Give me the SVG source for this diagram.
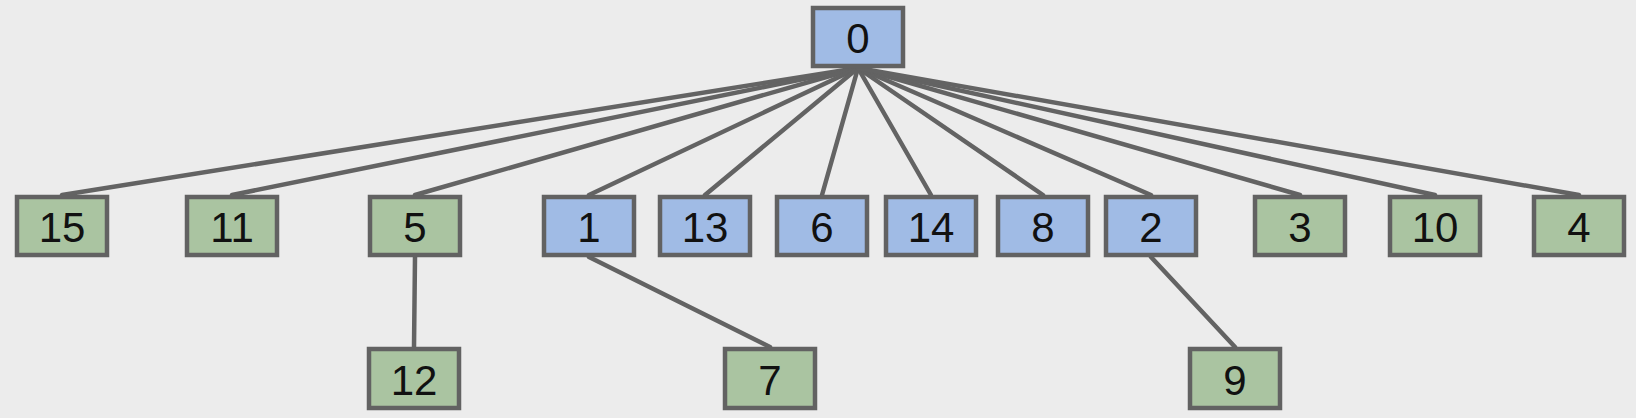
<svg xmlns="http://www.w3.org/2000/svg" width="1636" height="418" viewBox="0 0 1636 418">
<style>
.bg{fill:#ececec}
.n rect{stroke:#626262;stroke-width:4.5}
.b rect{fill:#a0bbe5}
.g rect{fill:#aac4a1}
.n text{font-family:"Liberation Sans",Arial,sans-serif;font-size:42px;fill:#111;text-anchor:middle}
#edges line{stroke:#636363;stroke-width:4.5;stroke-linecap:round}
</style>
<rect class="bg" x="0" y="0" width="1636" height="418"/>
<g id="edges">
<line x1="858" y1="68" x2="62" y2="195"/>
<line x1="858" y1="68" x2="232" y2="195"/>
<line x1="858" y1="68" x2="415" y2="195"/>
<line x1="858" y1="68" x2="589" y2="195"/>
<line x1="858" y1="68" x2="705" y2="195"/>
<line x1="858" y1="68" x2="822" y2="195"/>
<line x1="858" y1="68" x2="931" y2="195"/>
<line x1="858" y1="68" x2="1043" y2="195"/>
<line x1="858" y1="68" x2="1151" y2="195"/>
<line x1="858" y1="68" x2="1300" y2="195"/>
<line x1="858" y1="68" x2="1435" y2="195"/>
<line x1="858" y1="68" x2="1579" y2="195"/>
<line x1="415" y1="257" x2="414" y2="347"/>
<line x1="589" y1="257" x2="770" y2="347"/>
<line x1="1151" y1="257" x2="1235" y2="347"/>
</g>
<g id="n0" class="n b"><rect x="813" y="8" width="90" height="58"/><text x="858" y="53">0</text></g>
<g id="n15" class="n g"><rect x="17" y="197" width="90" height="58"/><text x="62" y="242">15</text></g>
<g id="n11" class="n g"><rect x="187" y="197" width="90" height="58"/><text x="232" y="242">11</text></g>
<g id="n5" class="n g"><rect x="370" y="197" width="90" height="58"/><text x="415" y="242">5</text></g>
<g id="n1" class="n b"><rect x="544" y="197" width="90" height="58"/><text x="589" y="242">1</text></g>
<g id="n13" class="n b"><rect x="660" y="197" width="90" height="58"/><text x="705" y="242">13</text></g>
<g id="n6" class="n b"><rect x="777" y="197" width="90" height="58"/><text x="822" y="242">6</text></g>
<g id="n14" class="n b"><rect x="886" y="197" width="90" height="58"/><text x="931" y="242">14</text></g>
<g id="n8" class="n b"><rect x="998" y="197" width="90" height="58"/><text x="1043" y="242">8</text></g>
<g id="n2" class="n b"><rect x="1106" y="197" width="90" height="58"/><text x="1151" y="242">2</text></g>
<g id="n3" class="n g"><rect x="1255" y="197" width="90" height="58"/><text x="1300" y="242">3</text></g>
<g id="n10" class="n g"><rect x="1390" y="197" width="90" height="58"/><text x="1435" y="242">10</text></g>
<g id="n4" class="n g"><rect x="1534" y="197" width="90" height="58"/><text x="1579" y="242">4</text></g>
<g id="n12" class="n g"><rect x="369" y="349" width="90" height="59"/><text x="414" y="395">12</text></g>
<g id="n7" class="n g"><rect x="725" y="349" width="90" height="59"/><text x="770" y="395">7</text></g>
<g id="n9" class="n g"><rect x="1190" y="349" width="90" height="59"/><text x="1235" y="395">9</text></g>
</svg>
